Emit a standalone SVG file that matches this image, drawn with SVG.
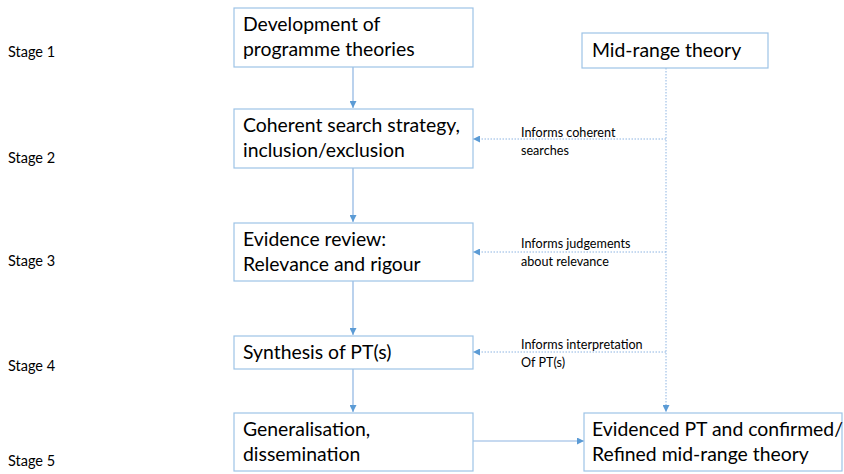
<svg xmlns="http://www.w3.org/2000/svg" width="844" height="474" viewBox="0 0 844 474">
<style>
.box{fill:#fff;stroke:#9dc3e6;stroke-width:1.2}
.t{font-family:Lato,"Liberation Sans",sans-serif;font-size:19.4px;fill:#000}
.s{font-family:Lato,"Liberation Sans",sans-serif;font-size:14.5px;fill:#000}
.n{font-family:Lato,"Liberation Sans",sans-serif;font-size:12.6px;fill:#000}
.solid{stroke:#8db4e2;stroke-width:1.2;fill:none}
.dot{stroke:#8db4e2;stroke-width:1;stroke-dasharray:1.5 1.5;fill:none}
</style>
<defs>
<marker id="ah" viewBox="0 0 10 10" refX="10" refY="5" markerWidth="7" markerHeight="7" markerUnits="userSpaceOnUse" orient="auto">
<path d="M0,0 L10,5 L0,10 z" fill="#5b9bd5"/>
</marker>
</defs>
<g id="stages">
<text class="s" x="8" y="57">Stage 1</text>
<text class="s" x="8" y="163">Stage 2</text>
<text class="s" x="8" y="266">Stage 3</text>
<text class="s" x="8" y="371">Stage 4</text>
<text class="s" x="8" y="466">Stage 5</text>
</g>
<g id="connectors">
<line class="solid" x1="353" y1="67" x2="353" y2="108" marker-end="url(#ah)"/>
<line class="solid" x1="353" y1="168" x2="353" y2="222" marker-end="url(#ah)"/>
<line class="solid" x1="353" y1="281" x2="353" y2="335" marker-end="url(#ah)"/>
<line class="solid" x1="353" y1="369" x2="353" y2="412" marker-end="url(#ah)"/>
<line class="solid" x1="473" y1="441" x2="584" y2="441" marker-end="url(#ah)"/>
<line class="dot" x1="666" y1="68" x2="666" y2="412" marker-end="url(#ah)"/>
<line class="dot" x1="666" y1="139" x2="473" y2="139" marker-end="url(#ah)"/>
<line class="dot" x1="666" y1="252" x2="473" y2="252" marker-end="url(#ah)"/>
<line class="dot" x1="666" y1="352" x2="473" y2="352" marker-end="url(#ah)"/>
<text class="n" x="521" y="137">Informs coherent</text>
<text class="n" x="521" y="155">searches</text>
<text class="n" x="521" y="248">Informs judgements</text>
<text class="n" x="521" y="266">about relevance</text>
<text class="n" x="521" y="349">Informs interpretation</text>
<text class="n" x="521" y="367">Of PT(s)</text>
</g>
<g id="n1">
<rect class="box" x="234" y="8" width="239" height="59"/>
<text class="t" x="243" y="31">Development of</text>
<text class="t" x="243" y="56">programme theories</text>
</g>
<g id="n2">
<rect class="box" x="234" y="109" width="239" height="59"/>
<text class="t" x="243" y="132">Coherent search strategy,</text>
<text class="t" x="243" y="157">inclusion/exclusion</text>
</g>
<g id="n3">
<rect class="box" x="234" y="223" width="239" height="58"/>
<text class="t" x="243" y="246">Evidence review:</text>
<text class="t" x="243" y="271">Relevance and rigour</text>
</g>
<g id="n4">
<rect class="box" x="234" y="336" width="239" height="33"/>
<text class="t" x="243" y="359">Synthesis of PT(s)</text>
</g>
<g id="n5">
<rect class="box" x="234" y="413" width="239" height="58"/>
<text class="t" x="243" y="436">Generalisation,</text>
<text class="t" x="243" y="461">dissemination</text>
</g>
<g id="mrt">
<rect class="box" x="582" y="33" width="186" height="35"/>
<text class="t" x="592" y="57">Mid-range theory</text>
</g>
<g id="n6">
<rect class="box" x="584" y="413" width="258" height="58"/>
<text class="t" x="592" y="436">Evidenced PT and confirmed/</text>
<text class="t" x="592" y="461">Refined mid-range theory</text>
</g>
</svg>
